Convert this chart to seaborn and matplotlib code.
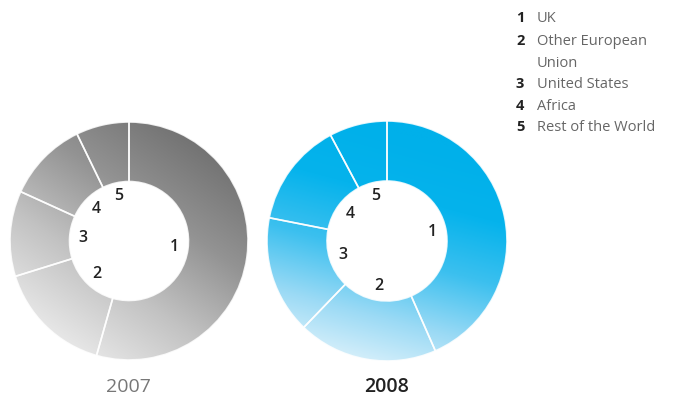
import numpy as np
import matplotlib
matplotlib.use("Agg")
import matplotlib.pyplot as plt
import seaborn as sns
from matplotlib.colors import LinearSegmentedColormap

sns.set_style("white")
plt.rcParams["font.family"] = ["Open Sans", "DejaVu Sans"]

# Regional split (%) — slices run clockwise from 12 o'clock
regions = ["UK", "Other European\nUnion", "United States", "Africa", "Rest of the World"]
slice_ids = ["1", "2", "3", "4", "5"]
share_2007 = [54.4, 15.8, 11.6, 11.0, 7.2]
share_2008 = [43.4, 18.8, 15.9, 14.1, 7.8]
years = ["2007", "2008"]

W, H = 674, 398
fig = plt.figure(figsize=(W / 100, H / 100), dpi=100)
fig.patch.set_facecolor("white")

gray_cmap = LinearSegmentedColormap.from_list("g", ["#e8e8e8", "#c2c2c2", "#939393", "#727272"])
blue_cmap = LinearSegmentedColormap.from_list("b", ["#e6f5fc", "#9bdaf5", "#3cc0ef", "#05b3ec", "#00b0ea"])


def gradient(direction_deg, bias=0.0):
    xs = np.linspace(-1, 1, 400)
    X, Y = np.meshgrid(xs, xs[::-1])
    d = np.deg2rad(direction_deg)
    t = X * np.cos(d) + Y * np.sin(d)
    return np.clip((t + 1) / 2 + bias, 0, 1)


def donut(cx, cy, r_px, values, cmap, direction, bias):
    half = 122
    ax = fig.add_axes([(cx - half) / W, (H - cy - half) / H, 2 * half / W, 2 * half / H])
    wedges, _ = ax.pie(values, radius=r_px, startangle=90, counterclock=False,
                       wedgeprops=dict(width=r_px * 0.5, facecolor="none", edgecolor="none"))
    grad = gradient(direction, bias)
    for w in wedges:
        im = ax.imshow(grad, cmap=cmap, extent=[-half, half, -half, half],
                       vmin=0, vmax=1, interpolation="bilinear", zorder=1)
        im.set_clip_path(w)
    outlines, _ = ax.pie(values, radius=r_px, startangle=90, counterclock=False,
                         wedgeprops=dict(width=r_px * 0.5, facecolor="none",
                                         edgecolor=(1, 1, 1, 0.85), linewidth=1.2))
    for o in outlines:
        o.set_zorder(3)
    # numbered labels inside the hole at each slice's mid-angle
    cum = np.cumsum([0] + list(values))
    total = cum[-1]
    for i, lab in enumerate(slice_ids):
        mid = (cum[i] + cum[i + 1]) / 2 / total * 360
        ang = np.deg2rad(90 - mid)
        rr = 46
        ax.text(rr * np.cos(ang), rr * np.sin(ang), lab, ha="center", va="center",
                fontsize=11.5, color="#222222", fontweight="semibold", zorder=4)
    ax.set_xlim(-half, half)
    ax.set_ylim(-half, half)
    ax.set_aspect("equal")
    ax.axis("off")
    return ax


donut(129, 241, 119, share_2007, gray_cmap, 55, 0.0)
donut(387, 241, 120, share_2008, blue_cmap, 75, 0.06)

fig.text(128 / W, 1 - 387 / H, years[0], ha="center", va="center", fontsize=14, color="#777777")
fig.text(387 / W, 1 - 387 / H, years[1], ha="center", va="center", fontsize=14,
         color="#222222", fontweight="semibold")

# numbered legend list
line_y = [22, 45, 88, 110, 131]
wrap_y = 67
for num, name, y in zip(slice_ids, regions, line_y):
    fig.text(516 / W, 1 - y / H, num, ha="left", va="baseline", fontsize=10.5,
             color="#222222", fontweight="bold")
    parts = name.split("\n")
    fig.text(537 / W, 1 - y / H, parts[0], ha="left", va="baseline", fontsize=10.5, color="#666666")
    if len(parts) > 1:
        fig.text(537 / W, 1 - wrap_y / H, parts[1], ha="left", va="baseline",
                 fontsize=10.5, color="#666666")

fig.savefig("out.png", dpi=100, facecolor="white")
